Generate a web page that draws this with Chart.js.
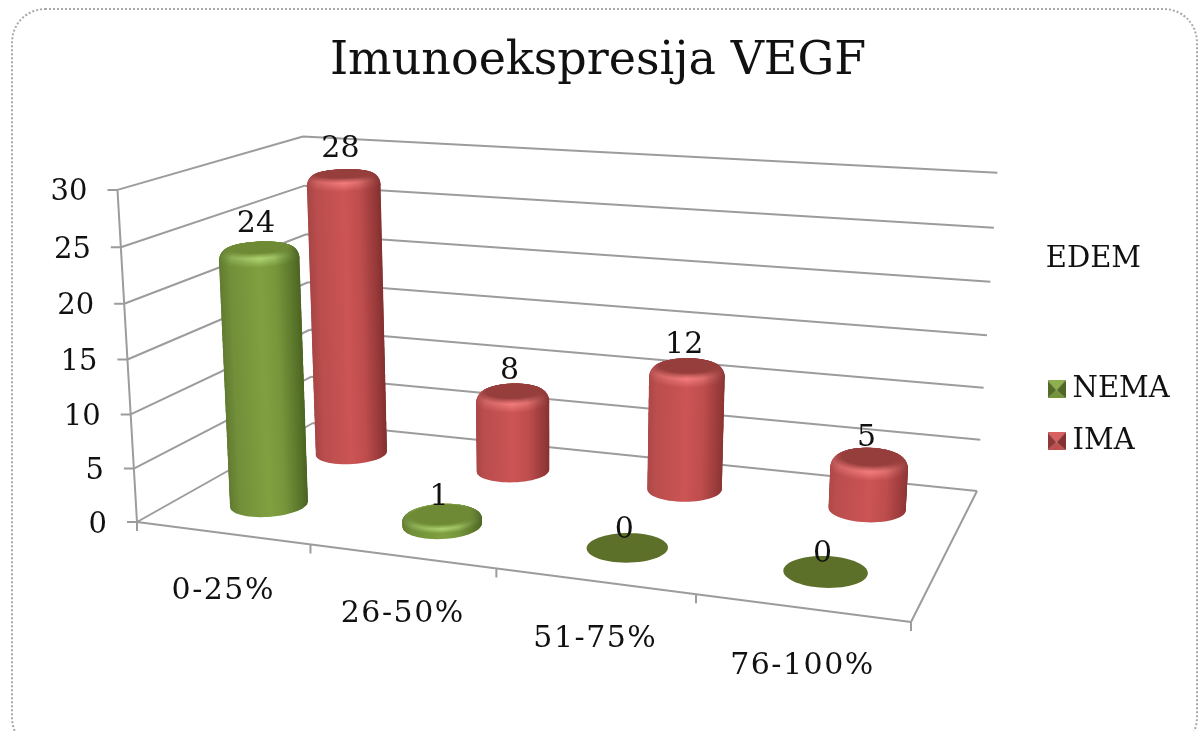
<!DOCTYPE html>
<html>
<head>
<meta charset="utf-8">
<title>Imunoekspresija VEGF</title>
<script src="https://cdn.jsdelivr.net/npm/chart.js@4"></script>
<style>
    html, body { margin: 0; padding: 0; background: #fff; overflow: hidden; }
    #wrap { position: relative; width: 1203px; height: 731px; overflow: hidden; }
    #frame { position: absolute; left: 11px; top: 8px; width: 1183px; height: 740px; border: 2px dotted #a8a8a8; border-radius: 34px; }
    canvas { position: absolute; left: 0; top: 0; filter: blur(0.45px); }
</style>
</head>
<body>
<div id="wrap">
    <div id="frame"></div>
    <canvas id="chart" width="1203" height="731"></canvas>
</div>
<script>
// Data
const categories = ['0-25%', '26-50%', '51-75%', '76-100%'];
const nemaValues = [24, 1, 0, 0];
const imaValues = [28, 8, 12, 5];
const yTickMax = 30;
const yTickStep = 5;

const FONT = '"DejaVu Serif", serif';
const GRID = '#9c9c9c';

// Floor of the 3D box in screen pixels: front-left, front-right, back-right, back-left
const FLOOR = [[137, 522], [911, 622], [977, 491], [313, 423]];
// How the box rises towards the top of the value axis
const RISE = { x: -24.4, y: -340, w: -0.0415, xu: 4, yu: 9, yd: -4 };
// small correction, the reference spaces the categories a bit more evenly than the pure projection
const U_BEND = 0.02;
// Series sit one behind the other, footprint of a cylinder on the floor
const DEPTH = { NEMA: 0.25, IMA: 0.75 };
const RADIUS_U = 0.05, RADIUS_D = 0.11;

const PAINT = {
    NEMA: { mid: [128, 160, 64], left: [92, 118, 46], right: [66, 90, 28], face: [110, 138, 52], glow: [176, 212, 112], flat: [93, 112, 41] },
    IMA: { mid: [204, 84, 84], left: [160, 66, 66], right: [116, 40, 40], face: [150, 62, 60], glow: [244, 124, 124], flat: [146, 60, 58] }
};

// square to quad mapping
const H = (function() {
    const [p0, p1, p2, p3] = FLOOR;
    const dx1 = p1[0] - p2[0], dx2 = p3[0] - p2[0], sx = p0[0] - p1[0] + p2[0] - p3[0];
    const dy1 = p1[1] - p2[1], dy2 = p3[1] - p2[1], sy = p0[1] - p1[1] + p2[1] - p3[1];
    const den = dx1 * dy2 - dx2 * dy1;
    const g = (sx * dy2 - dx2 * sy) / den;
    const h = (dx1 * sy - sx * dy1) / den;
    return {
        a: p1[0] - p0[0] + g * p1[0], b: p3[0] - p0[0] + h * p3[0], c: p0[0],
        d: p1[1] - p0[1] + g * p1[1], e: p3[1] - p0[1] + h * p3[1], f: p0[1],
        g: g, h: h
    };
})();

// u along categories, d into the page, v up the value axis (all 0..1)
function project(u0, d, v) {
    const u = u0 + U_BEND * u0 * (1 - u0);
    const w = H.g * u + H.h * d + 1 + RISE.w * v;
    return {
        x: (H.a * u + H.b * d + H.c + (RISE.x + RISE.xu * u) * v) / w,
        y: (H.d * u + H.e * d + H.f + (RISE.y + RISE.yu * u + RISE.yd * d) * v) / w
    };
}

function mix(a, b, t) {
    return 'rgb(' + a.map((c, i) => Math.round(c + (b[i] - c) * t)).join(',') + ')';
}
function mixArr(a, b, t) {
    return a.map((c, i) => c + (b[i] - c) * t);
}

function ellipsePath(ctx, u, d, v, k) {
    ctx.beginPath();
    for (let i = 0; i < 60; i++) {
        const t = i / 60 * Math.PI * 2;
        const p = project(u + RADIUS_U * k * Math.cos(t), d + RADIUS_D * k * Math.sin(t), v);
        if (i === 0) ctx.moveTo(p.x, p.y); else ctx.lineTo(p.x, p.y);
    }
    ctx.closePath();
}

function fillRing(ctx, u, d, v, k, left, mid, right) {
    const l = project(u - RADIUS_U * k - RADIUS_D * k * 0.12, d, v);
    const r = project(u + RADIUS_U * k + RADIUS_D * k * 0.12, d, v);
    const grad = ctx.createLinearGradient(l.x, 0, r.x, 0);
    grad.addColorStop(0, mix(left, left, 0));
    grad.addColorStop(0.16, mix(left, mid, 0.6));
    grad.addColorStop(0.5, mix(mid, mid, 0));
    grad.addColorStop(0.68, mix(mid, right, 0.15));
    grad.addColorStop(0.88, mix(mid, right, 0.65));
    grad.addColorStop(1, mix(right, right, 0));
    ctx.fillStyle = grad;
    ellipsePath(ctx, u, d, v, k);
    ctx.fill();
}

function drawCylinder(ctx, u, d, v, paint) {
    if (v <= 0) {
        ctx.fillStyle = mix(paint.flat, paint.flat, 0);
        ellipsePath(ctx, u, d, 0, 1);
        ctx.fill();
        return;
    }
    const heightPx = project(u, d, 0).y - project(u, d, v).y;
    const bevelPx = 12 * Math.min(1, heightPx / 25);
    const bevelV = v * bevelPx / heightPx;
    const bodyV = v - bevelV;
    const steps = Math.ceil(heightPx / 1.2);
    for (let i = 0; i <= steps; i++) {
        fillRing(ctx, u, d, bodyV * i / steps, 1, paint.left, paint.mid, paint.right);
    }
    // rounded top edge, lit at the front, darker flat face
    const capSteps = 24;
    for (let i = 0; i <= capSteps; i++) {
        const s = i / capSteps;
        const lift = Math.sin(s * Math.PI / 2);
        const k = 1 - 0.36 * s * s;
        let mid, left, right;
        if (s < 0.45) {
            mid = mixArr(paint.mid, paint.glow, s / 0.45);
            left = paint.left; right = paint.right;
        } else {
            const t = Math.min(1, (s - 0.45) / 0.4);
            mid = mixArr(paint.glow, paint.face, t);
            left = mixArr(paint.left, paint.face, t);
            right = mixArr(paint.right, paint.face, t);
        }
        fillRing(ctx, u, d, bodyV + bevelV * lift, k, left, mid, right);
    }
}

// little pyramid used as the legend key
function legendKey(paint) {
    const c = document.createElement('canvas');
    c.width = 18; c.height = 18;
    const g = c.getContext('2d');
    const m = [9, 10];
    const tri = (a, b, col) => {
        g.fillStyle = col;
        g.beginPath(); g.moveTo(a[0], a[1]); g.lineTo(b[0], b[1]); g.lineTo(m[0], m[1]); g.closePath(); g.fill();
    };
    tri([0, 0], [18, 0], mix(paint.mid, paint.glow, 0.3));
    tri([18, 0], [18, 18], mix(paint.right, paint.mid, 0.2));
    tri([18, 18], [0, 18], mix(paint.mid, paint.left, 0.3));
    tri([0, 18], [0, 0], mix(paint.left, paint.right, 0.4));
    return c;
}

const box3d = {
    id: 'box3d',
    afterLayout(chart) {
        // title is centred over the whole frame, not over the box
        chart.titleBlock.left = 0;
        chart.titleBlock.right = 1196;
        chart.titleBlock.width = 1196;
        // legend stands on its own beside the box, title ends over the keys
        const lg = chart.legend;
        lg.left = 1032;
        lg.width = 109;
        lg.top = 245;
        lg.bottom = 480;
        lg.height = 235;
        lg.right = 1195;
    },
    beforeDatasetsDraw(chart) {
        const ctx = chart.ctx;
        const area = chart.chartArea;
        const yScale = chart.scales.y;
        const line = (a, b) => { ctx.moveTo(a.x, a.y); ctx.lineTo(b.x, b.y); };

        ctx.save();
        ctx.strokeStyle = GRID;
        ctx.lineWidth = 2;
        ctx.beginPath();
        yScale.ticks.forEach(t => {
            const v = (area.bottom - yScale.getPixelForValue(t.value)) / area.height;
            line(project(0, 0, v), project(0, 1, v));
            line(project(0, 1, v), project(1, 1, v));
            // value tick
            const at = project(0, 0, v);
            line(at, { x: at.x - 10, y: at.y });
        });
        line(project(0, 0, 0), project(0, 0, 1));
        line(project(0, 0, 0), project(1, 0, 0));
        line(project(1, 0, 0), project(1, 1, 0));
        for (let i = 0; i <= categories.length; i++) {
            const at = project(i / categories.length, 0, 0);
            line(at, { x: at.x, y: at.y + 9 });
        }
        ctx.stroke();

        // axis labels follow the slanted edges of the box
        ctx.fillStyle = '#111';
        ctx.textBaseline = 'middle';
        ctx.font = '29px ' + FONT;
        ctx.textAlign = 'right';
        yScale.ticks.forEach(t => {
            const v = (area.bottom - yScale.getPixelForValue(t.value)) / area.height;
            const at = project(0, 0, v);
            ctx.fillText(String(t.value), at.x - 30, at.y + 3);
        });
        ctx.textAlign = 'center';
        ctx.font = '30px ' + FONT;
        ctx.letterSpacing = '1.5px';
        const xScale = chart.scales.x;
        categories.forEach((label, i) => {
            const u = (xScale.getPixelForValue(i) - area.left) / area.width;
            const at = project(u, 0, 0);
            ctx.fillText(label, at.x + 1, at.y + 58);
        });
        ctx.letterSpacing = '0px';
        ctx.restore();
    },
    afterDatasetsDraw(chart) {
        const ctx = chart.ctx;
        const area = chart.chartArea;
        const toU = el => (el.x - area.left) / area.width;
        const toV = el => (area.bottom - el.y) / area.height;
        ctx.save();
        // back row first
        [1, 0].forEach(idx => {
            const ds = chart.data.datasets[idx];
            chart.getDatasetMeta(idx).data.forEach(el => {
                drawCylinder(ctx, toU(el), DEPTH[ds.label], toV(el), PAINT[ds.label]);
            });
        });
        ctx.fillStyle = '#111';
        ctx.font = '30px ' + FONT;
        ctx.textAlign = 'center';
        ctx.textBaseline = 'middle';
        [1, 0].forEach(idx => {
            const ds = chart.data.datasets[idx];
            chart.getDatasetMeta(idx).data.forEach((el, i) => {
                const top = project(toU(el), DEPTH[ds.label], toV(el));
                ctx.fillText(String(ds.data[i]), top.x - 3, top.y - 17 - 0.25 * ds.data[i]);
            });
        });
        ctx.restore();
    }
};

new Chart(document.getElementById('chart'), {
    type: 'bar',
    data: {
        labels: categories,
        datasets: [
            { label: 'NEMA', data: nemaValues, backgroundColor: 'rgba(0,0,0,0)', grouped: false },
            { label: 'IMA', data: imaValues, backgroundColor: 'rgba(0,0,0,0)', grouped: false }
        ]
    },
    options: {
        responsive: false,
        animation: false,
        layout: { padding: { left: 137, right: 292, top: 0, bottom: 209 } },
        scales: {
            x: {
                grid: { display: false },
                border: { display: false },
                ticks: { display: false },
                afterFit: s => { s.height = 0; }
            },
            y: {
                min: 0,
                max: yTickMax,
                grid: { display: false },
                border: { display: false },
                ticks: { display: false, stepSize: yTickStep },
                afterFit: s => { s.width = 0; }
            }
        },
        plugins: {
            tooltip: { enabled: false },
            title: {
                display: true,
                text: 'Imunoekspresija VEGF',
                color: '#111',
                font: { family: FONT, size: 46, weight: 'normal' },
                padding: { top: 34, bottom: 99 }
            },
            legend: {
                position: 'chartArea',
                align: 'start',
                title: {
                    display: true,
                    text: 'EDEM',
                    position: 'end',
                    color: '#111',
                    font: { family: FONT, size: 29, weight: 'normal' },
                    padding: { top: 0, bottom: 72 }
                },
                labels: {
                    usePointStyle: true,
                    boxWidth: 3,
                    boxHeight: 3,
                    padding: 23,
                    color: '#111',
                    font: { family: FONT, size: 29, weight: 'normal' },
                    generateLabels: chart => chart.data.datasets.map((ds, i) => ({
                        text: ds.label,
                        datasetIndex: i,
                        fontColor: '#111',
                        pointStyle: legendKey(PAINT[ds.label]),
                        lineWidth: 0
                    }))
                }
            }
        }
    },
    plugins: [box3d]
});
</script>
</body>
</html>
